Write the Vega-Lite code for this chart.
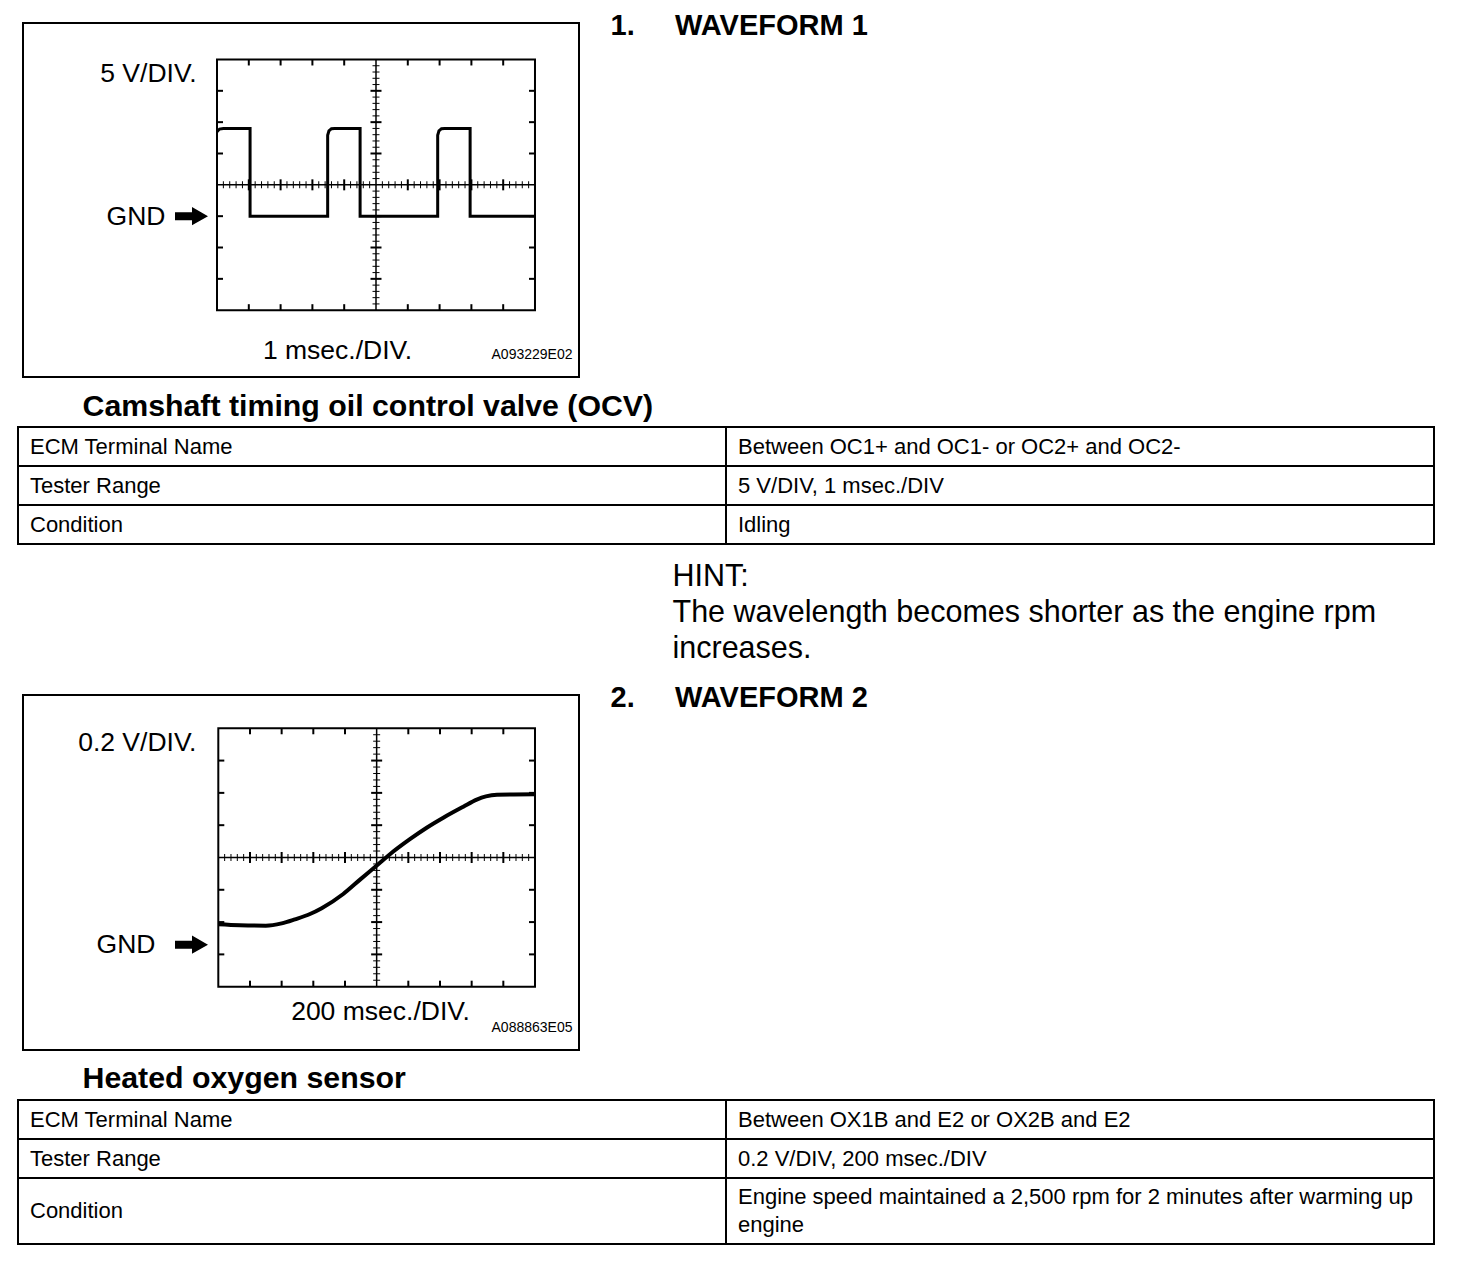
{
  "$schema": "https://vega.github.io/schema/vega-lite/v6.json",
  "padding": {"left": 17, "top": 10, "right": 0, "bottom": 0},
  "background": "white",
  "bounds": "flush",
  "spacing": 50,
  "datasets": {
    "s1screen": [{"t0": 0, "t1": 10, "tc": 5, "v0": -15, "v1": 25, "vc": 5}],
    "s1wave": [
      {"n": 1, "t": 0, "v": 13.5}, {"n": 2, "t": 0.08, "v": 13.9}, {"n": 3, "t": 0.2, "v": 14},
      {"n": 4, "t": 1.04, "v": 14}, {"n": 5, "t": 1.04, "v": 0}, {"n": 6, "t": 3.48, "v": 0},
      {"n": 7, "t": 3.48, "v": 12.9}, {"n": 8, "t": 3.52, "v": 13.6}, {"n": 9, "t": 3.6, "v": 13.95},
      {"n": 10, "t": 3.7, "v": 14}, {"n": 11, "t": 4.5, "v": 14}, {"n": 12, "t": 4.5, "v": 0},
      {"n": 13, "t": 6.94, "v": 0}, {"n": 14, "t": 6.94, "v": 12.9}, {"n": 15, "t": 6.98, "v": 13.6},
      {"n": 16, "t": 7.06, "v": 13.95}, {"n": 17, "t": 7.16, "v": 14}, {"n": 18, "t": 7.96, "v": 14},
      {"n": 19, "t": 7.96, "v": 0}, {"n": 20, "t": 10, "v": 0}
    ],
    "s1xmin": [
      {"p": 0.2}, {"p": 0.4}, {"p": 0.6}, {"p": 0.8}, {"p": 1.2}, {"p": 1.4}, {"p": 1.6}, {"p": 1.8},
      {"p": 2.2}, {"p": 2.4}, {"p": 2.6}, {"p": 2.8}, {"p": 3.2}, {"p": 3.4}, {"p": 3.6}, {"p": 3.8},
      {"p": 4.2}, {"p": 4.4}, {"p": 4.6}, {"p": 4.8}, {"p": 5.2}, {"p": 5.4}, {"p": 5.6}, {"p": 5.8},
      {"p": 6.2}, {"p": 6.4}, {"p": 6.6}, {"p": 6.8}, {"p": 7.2}, {"p": 7.4}, {"p": 7.6}, {"p": 7.8},
      {"p": 8.2}, {"p": 8.4}, {"p": 8.6}, {"p": 8.8}, {"p": 9.2}, {"p": 9.4}, {"p": 9.6}, {"p": 9.8}
    ],
    "s1xmaj": [{"p": 1}, {"p": 2}, {"p": 3}, {"p": 4}, {"p": 6}, {"p": 7}, {"p": 8}, {"p": 9}],
    "s1ymin": [
      {"p": -14}, {"p": -13}, {"p": -12}, {"p": -11}, {"p": -9}, {"p": -8}, {"p": -7}, {"p": -6},
      {"p": -4}, {"p": -3}, {"p": -2}, {"p": -1}, {"p": 1}, {"p": 2}, {"p": 3}, {"p": 4},
      {"p": 6}, {"p": 7}, {"p": 8}, {"p": 9}, {"p": 11}, {"p": 12}, {"p": 13}, {"p": 14},
      {"p": 16}, {"p": 17}, {"p": 18}, {"p": 19}, {"p": 21}, {"p": 22}, {"p": 23}, {"p": 24}
    ],
    "s1ymaj": [{"p": -10}, {"p": -5}, {"p": 0}, {"p": 10}, {"p": 15}, {"p": 20}],
    "s2screen": [{"t0": 0, "t1": 2000, "tc": 1000, "v0": -0.26, "v1": 1.34, "vc": 0.54}],
    "s2wave": [
      {"n": 1, "t": 0, "v": 0.126}, {"n": 2, "t": 137, "v": 0.12}, {"n": 3, "t": 300, "v": 0.118},
      {"n": 4, "t": 400, "v": 0.132}, {"n": 5, "t": 484, "v": 0.157}, {"n": 6, "t": 579, "v": 0.19},
      {"n": 7, "t": 653, "v": 0.226}, {"n": 8, "t": 789, "v": 0.314}, {"n": 9, "t": 895, "v": 0.403},
      {"n": 10, "t": 1010, "v": 0.498}, {"n": 11, "t": 1084, "v": 0.56}, {"n": 12, "t": 1210, "v": 0.653},
      {"n": 13, "t": 1316, "v": 0.724}, {"n": 14, "t": 1421, "v": 0.786}, {"n": 15, "t": 1547, "v": 0.854},
      {"n": 16, "t": 1632, "v": 0.898}, {"n": 17, "t": 1690, "v": 0.918}, {"n": 18, "t": 1760, "v": 0.928},
      {"n": 19, "t": 2000, "v": 0.931}
    ],
    "s2xmin": [
      {"p": 40}, {"p": 80}, {"p": 120}, {"p": 160}, {"p": 240}, {"p": 280}, {"p": 320}, {"p": 360},
      {"p": 440}, {"p": 480}, {"p": 520}, {"p": 560}, {"p": 640}, {"p": 680}, {"p": 720}, {"p": 760},
      {"p": 840}, {"p": 880}, {"p": 920}, {"p": 960}, {"p": 1040}, {"p": 1080}, {"p": 1120}, {"p": 1160},
      {"p": 1240}, {"p": 1280}, {"p": 1320}, {"p": 1360}, {"p": 1440}, {"p": 1480}, {"p": 1520}, {"p": 1560},
      {"p": 1640}, {"p": 1680}, {"p": 1720}, {"p": 1760}, {"p": 1840}, {"p": 1880}, {"p": 1920}, {"p": 1960}
    ],
    "s2xmaj": [{"p": 200}, {"p": 400}, {"p": 600}, {"p": 800}, {"p": 1200}, {"p": 1400}, {"p": 1600}, {"p": 1800}],
    "s2ymin": [
      {"p": -0.22}, {"p": -0.18}, {"p": -0.14}, {"p": -0.1}, {"p": -0.02}, {"p": 0.02}, {"p": 0.06}, {"p": 0.1},
      {"p": 0.18}, {"p": 0.22}, {"p": 0.26}, {"p": 0.3}, {"p": 0.38}, {"p": 0.42}, {"p": 0.46}, {"p": 0.5},
      {"p": 0.58}, {"p": 0.62}, {"p": 0.66}, {"p": 0.7}, {"p": 0.78}, {"p": 0.82}, {"p": 0.86}, {"p": 0.9},
      {"p": 0.98}, {"p": 1.02}, {"p": 1.06}, {"p": 1.1}, {"p": 1.18}, {"p": 1.22}, {"p": 1.26}, {"p": 1.3}
    ],
    "s2ymaj": [{"p": -0.06}, {"p": 0.14}, {"p": 0.34}, {"p": 0.74}, {"p": 0.94}, {"p": 1.14}],
    "t1": [
      {"r": 1, "c": "name", "text": "ECM Terminal Name"},
      {"r": 1, "c": "value", "text": "Between OC1+ and OC1- or OC2+ and OC2-"},
      {"r": 2, "c": "name", "text": "Tester Range"},
      {"r": 2, "c": "value", "text": "5 V/DIV, 1 msec./DIV"},
      {"r": 3, "c": "name", "text": "Condition"},
      {"r": 3, "c": "value", "text": "Idling"}
    ],
    "t2a": [
      {"r": 1, "c": "name", "text": "ECM Terminal Name"},
      {"r": 1, "c": "value", "text": "Between OX1B and E2 or OX2B and E2"},
      {"r": 2, "c": "name", "text": "Tester Range"},
      {"r": 2, "c": "value", "text": "0.2 V/DIV, 200 msec./DIV"}
    ],
    "t2b": [
      {"r": 3, "c": "name", "text": "Condition"},
      {"r": 3, "c": "value", "text": ["Engine speed maintained a 2,500 rpm for 2 minutes after warming up", "engine"]}
    ]
  },
  "vconcat": [
    {
      "width": 556, "height": 354,
      "view": {"stroke": "black", "strokeWidth": 2},
      "resolve": {"axis": {"x": "independent", "y": "independent"}},
      "layer": [
        {
          "data": {"name": "s1screen"},
          "mark": {"type": "rect", "fill": "transparent", "stroke": "black", "strokeWidth": 2},
          "encoding": {
            "x": {"field": "t0", "type": "quantitative", "scale": {"domain": [-6.101, 11.384], "nice": false, "zero": false},
              "axis": {"orient": "bottom", "title": "1 msec./DIV.", "titleX": 314, "titleY": -18.5, "titleAlign": "center", "titleBaseline": "alphabetic", "titleFontSize": 26.5}},
            "x2": {"field": "t1"},
            "y": {"field": "v0", "type": "quantitative", "scale": {"domain": [-25.66, 30.82], "nice": false, "zero": false},
              "axis": {"orient": "left", "values": [0], "labels": true, "labelExpr": "'GND'", "labelFontSize": 26.5, "labelPadding": 0, "labelAlign": "right", "labelBaseline": "middle", "offset": -142,
                "title": "5 V/DIV.", "titleAngle": 0, "titleX": 31, "titleY": 58, "titleAlign": "right", "titleBaseline": "alphabetic", "titleFontSize": 26.5}},
            "y2": {"field": "v1"}
          }
        },
        {
          "data": {"name": "s1screen"},
          "mark": {"type": "rule", "color": "black", "strokeWidth": 1.5},
          "encoding": {"x": {"field": "tc", "type": "quantitative", "axis": null}, "y": {"field": "v0", "type": "quantitative", "axis": null}, "y2": {"field": "v1"}}
        },
        {
          "data": {"name": "s1screen"},
          "mark": {"type": "rule", "color": "black", "strokeWidth": 1.5},
          "encoding": {"y": {"field": "vc", "type": "quantitative", "axis": null}, "x": {"field": "t0", "type": "quantitative", "axis": null}, "x2": {"field": "t1"}}
        },
        {
          "data": {"name": "s1xmin"},
          "mark": {"type": "tick", "orient": "vertical", "color": "black", "opacity": 1, "size": 7, "thickness": 1},
          "encoding": {"x": {"field": "p", "type": "quantitative", "axis": null}, "y": {"datum": 5, "type": "quantitative", "axis": null}}
        },
        {
          "data": {"name": "s1xmaj"},
          "mark": {"type": "tick", "orient": "vertical", "color": "black", "opacity": 1, "size": 11, "thickness": 2},
          "encoding": {"x": {"field": "p", "type": "quantitative", "axis": null}, "y": {"datum": 5, "type": "quantitative", "axis": null}}
        },
        {
          "data": {"name": "s1ymin"},
          "mark": {"type": "tick", "orient": "horizontal", "color": "black", "opacity": 1, "size": 7, "thickness": 1},
          "encoding": {"y": {"field": "p", "type": "quantitative", "axis": null}, "x": {"datum": 5, "type": "quantitative", "axis": null}}
        },
        {
          "data": {"name": "s1ymaj"},
          "mark": {"type": "tick", "orient": "horizontal", "color": "black", "opacity": 1, "size": 11, "thickness": 2},
          "encoding": {"y": {"field": "p", "type": "quantitative", "axis": null}, "x": {"datum": 5, "type": "quantitative", "axis": null}}
        },
        {
          "data": {"name": "s1xmaj"},
          "mark": {"type": "tick", "orient": "vertical", "color": "black", "opacity": 1, "size": 6, "thickness": 2, "yOffset": 3},
          "encoding": {"x": {"field": "p", "type": "quantitative", "axis": null}, "y": {"datum": 25, "type": "quantitative", "axis": null}}
        },
        {
          "data": {"name": "s1xmaj"},
          "mark": {"type": "tick", "orient": "vertical", "color": "black", "opacity": 1, "size": 6, "thickness": 2, "yOffset": -3},
          "encoding": {"x": {"field": "p", "type": "quantitative", "axis": null}, "y": {"datum": -15, "type": "quantitative", "axis": null}}
        },
        {
          "data": {"name": "s1ymaj"},
          "mark": {"type": "tick", "orient": "horizontal", "color": "black", "opacity": 1, "size": 6, "thickness": 2, "xOffset": 3},
          "encoding": {"y": {"field": "p", "type": "quantitative", "axis": null}, "x": {"datum": 0, "type": "quantitative", "axis": null}}
        },
        {
          "data": {"name": "s1ymaj"},
          "mark": {"type": "tick", "orient": "horizontal", "color": "black", "opacity": 1, "size": 6, "thickness": 2, "xOffset": -3},
          "encoding": {"y": {"field": "p", "type": "quantitative", "axis": null}, "x": {"datum": 10, "type": "quantitative", "axis": null}}
        },
        {
          "data": {"name": "s1screen"},
          "mark": {"type": "point", "shape": "M-1,-0.24L0.03,-0.24L0.03,-0.55L1,0L0.03,0.55L0.03,0.24L-1,0.24Z", "filled": true, "color": "black", "opacity": 1, "size": 1089, "xOffset": -25.5},
          "encoding": {"x": {"field": "t0", "type": "quantitative", "axis": null}, "y": {"datum": 0, "type": "quantitative", "axis": null}}
        },
        {
          "data": {"name": "s1wave"},
          "mark": {"type": "line", "color": "black", "strokeWidth": 3},
          "encoding": {
            "x": {"field": "t", "type": "quantitative",
              "axis": {"orient": "top", "title": "1.\u00a0\u00a0\u00a0\u00a0\u00a0WAVEFORM 1", "titleX": 587, "titleY": 11, "titleAlign": "left", "titleBaseline": "alphabetic", "titleFontSize": 29, "titleFontWeight": "bold"}},
            "y": {"field": "v", "type": "quantitative",
              "axis": {"orient": "right", "title": "A093229E02", "titleAngle": 0, "titleX": -7, "titleY": 335, "titleAlign": "right", "titleBaseline": "alphabetic", "titleFontSize": 14}},
            "order": {"field": "n", "type": "quantitative"}
          }
        }
      ]
    },
    {
      "width": 1411, "height": 218,
      "data": {"name": "t1"},
      "layer": [
        {
          "mark": {"type": "rect", "fill": "white", "stroke": "black", "strokeWidth": 2},
          "encoding": {
            "x": {"field": "c", "type": "nominal", "scale": {"domain": ["name", "value"], "range": [-5, 1411], "paddingInner": 0, "paddingOuter": 0},
              "axis": {"orient": "bottom", "title": ["HINT:", "The wavelength becomes shorter as the engine rpm", "increases."], "titleX": 649, "titleY": -60, "titleAlign": "left", "titleBaseline": "alphabetic", "titleFontSize": 30.5, "titleLineHeight": 36}},
            "y": {"field": "r", "type": "ordinal", "scale": {"range": [0, 117], "paddingInner": 0, "paddingOuter": 0},
              "axis": {"orient": "left", "title": "Camshaft timing oil control valve (OCV)", "titleAngle": 0, "titleX": 59, "titleY": -12, "titleAlign": "left", "titleBaseline": "alphabetic", "titleFontSize": 30.3, "titleFontWeight": "bold"}}
          }
        },
        {
          "mark": {"type": "text", "align": "left", "baseline": "middle", "dx": 12, "fontSize": 22, "color": "black"},
          "encoding": {
            "x": {"field": "c", "type": "nominal", "bandPosition": 0},
            "y": {"field": "r", "type": "ordinal"},
            "text": {"field": "text"}
          }
        }
      ]
    },
    {
      "width": 556, "height": 355,
      "view": {"stroke": "black", "strokeWidth": 2},
      "resolve": {"axis": {"x": "independent", "y": "independent"}},
      "layer": [
        {
          "data": {"name": "s2screen"},
          "mark": {"type": "rect", "fill": "transparent", "stroke": "black", "strokeWidth": 2},
          "encoding": {
            "x": {"field": "t0", "type": "quantitative", "scale": {"domain": [-1233.4, 2277.9], "nice": false, "zero": false},
              "axis": {"orient": "bottom", "title": "200 msec./DIV.", "titleX": 357, "titleY": -30.5, "titleAlign": "center", "titleBaseline": "alphabetic", "titleFontSize": 26.5}},
            "x2": {"field": "t1"},
            "y": {"field": "v0", "type": "quantitative", "scale": {"domain": [-0.652, 1.546], "nice": false, "zero": false},
              "axis": {"orient": "left", "values": [0], "labels": true, "labelExpr": "'GND'", "labelFontSize": 26.5, "labelPadding": 0, "labelAlign": "right", "labelBaseline": "middle", "offset": -132,
                "title": "0.2 V/DIV.", "titleAngle": 0, "titleX": 41, "titleY": 55.5, "titleAlign": "right", "titleBaseline": "alphabetic", "titleFontSize": 26.5}},
            "y2": {"field": "v1"}
          }
        },
        {
          "data": {"name": "s2screen"},
          "mark": {"type": "rule", "color": "black", "strokeWidth": 1.5},
          "encoding": {"x": {"field": "tc", "type": "quantitative", "axis": null}, "y": {"field": "v0", "type": "quantitative", "axis": null}, "y2": {"field": "v1"}}
        },
        {
          "data": {"name": "s2screen"},
          "mark": {"type": "rule", "color": "black", "strokeWidth": 1.5},
          "encoding": {"y": {"field": "vc", "type": "quantitative", "axis": null}, "x": {"field": "t0", "type": "quantitative", "axis": null}, "x2": {"field": "t1"}}
        },
        {
          "data": {"name": "s2xmin"},
          "mark": {"type": "tick", "orient": "vertical", "color": "black", "opacity": 1, "size": 7, "thickness": 1},
          "encoding": {"x": {"field": "p", "type": "quantitative", "axis": null}, "y": {"datum": 0.54, "type": "quantitative", "axis": null}}
        },
        {
          "data": {"name": "s2xmaj"},
          "mark": {"type": "tick", "orient": "vertical", "color": "black", "opacity": 1, "size": 11, "thickness": 2},
          "encoding": {"x": {"field": "p", "type": "quantitative", "axis": null}, "y": {"datum": 0.54, "type": "quantitative", "axis": null}}
        },
        {
          "data": {"name": "s2ymin"},
          "mark": {"type": "tick", "orient": "horizontal", "color": "black", "opacity": 1, "size": 7, "thickness": 1},
          "encoding": {"y": {"field": "p", "type": "quantitative", "axis": null}, "x": {"datum": 1000, "type": "quantitative", "axis": null}}
        },
        {
          "data": {"name": "s2ymaj"},
          "mark": {"type": "tick", "orient": "horizontal", "color": "black", "opacity": 1, "size": 11, "thickness": 2},
          "encoding": {"y": {"field": "p", "type": "quantitative", "axis": null}, "x": {"datum": 1000, "type": "quantitative", "axis": null}}
        },
        {
          "data": {"name": "s2xmaj"},
          "mark": {"type": "tick", "orient": "vertical", "color": "black", "opacity": 1, "size": 6, "thickness": 2, "yOffset": 3},
          "encoding": {"x": {"field": "p", "type": "quantitative", "axis": null}, "y": {"datum": 1.34, "type": "quantitative", "axis": null}}
        },
        {
          "data": {"name": "s2xmaj"},
          "mark": {"type": "tick", "orient": "vertical", "color": "black", "opacity": 1, "size": 6, "thickness": 2, "yOffset": -3},
          "encoding": {"x": {"field": "p", "type": "quantitative", "axis": null}, "y": {"datum": -0.26, "type": "quantitative", "axis": null}}
        },
        {
          "data": {"name": "s2ymaj"},
          "mark": {"type": "tick", "orient": "horizontal", "color": "black", "opacity": 1, "size": 6, "thickness": 2, "xOffset": 3},
          "encoding": {"y": {"field": "p", "type": "quantitative", "axis": null}, "x": {"datum": 0, "type": "quantitative", "axis": null}}
        },
        {
          "data": {"name": "s2ymaj"},
          "mark": {"type": "tick", "orient": "horizontal", "color": "black", "opacity": 1, "size": 6, "thickness": 2, "xOffset": -3},
          "encoding": {"y": {"field": "p", "type": "quantitative", "axis": null}, "x": {"datum": 2000, "type": "quantitative", "axis": null}}
        },
        {
          "data": {"name": "s2screen"},
          "mark": {"type": "point", "shape": "M-1,-0.24L0.03,-0.24L0.03,-0.55L1,0L0.03,0.55L0.03,0.24L-1,0.24Z", "filled": true, "color": "black", "opacity": 1, "size": 1089, "xOffset": -26.8},
          "encoding": {"x": {"field": "t0", "type": "quantitative", "axis": null}, "y": {"datum": 0, "type": "quantitative", "axis": null}}
        },
        {
          "data": {"name": "s2wave"},
          "mark": {"type": "line", "color": "black", "strokeWidth": 4, "interpolate": "monotone"},
          "encoding": {
            "x": {"field": "t", "type": "quantitative",
              "axis": {"orient": "top", "title": "2.\u00a0\u00a0\u00a0\u00a0\u00a0WAVEFORM 2", "titleX": 587, "titleY": 11, "titleAlign": "left", "titleBaseline": "alphabetic", "titleFontSize": 29, "titleFontWeight": "bold"}},
            "y": {"field": "v", "type": "quantitative",
              "axis": {"orient": "right", "title": "A088863E05", "titleAngle": 0, "titleX": -7, "titleY": 336, "titleAlign": "right", "titleBaseline": "alphabetic", "titleFontSize": 14}},
            "order": {"field": "n", "type": "quantitative"}
          }
        }
      ]
    },
    {
      "width": 1411, "height": 144,
      "resolve": {"scale": {"y": "independent"}},
      "layer": [
        {
          "data": {"name": "t2a"},
          "layer": [
            {
              "mark": {"type": "rect", "fill": "white", "stroke": "black", "strokeWidth": 2},
              "encoding": {
                "x": {"field": "c", "type": "nominal", "scale": {"domain": ["name", "value"], "range": [-5, 1411], "paddingInner": 0, "paddingOuter": 0}, "axis": null},
                "y": {"field": "r", "type": "ordinal", "scale": {"range": [0, 78], "paddingInner": 0, "paddingOuter": 0},
                  "axis": {"orient": "left", "title": "Heated oxygen sensor", "titleAngle": 0, "titleX": 59, "titleY": -13, "titleAlign": "left", "titleBaseline": "alphabetic", "titleFontSize": 30.3, "titleFontWeight": "bold"}}
              }
            },
            {
              "mark": {"type": "text", "align": "left", "baseline": "middle", "dx": 12, "fontSize": 22, "color": "black"},
              "encoding": {
                "x": {"field": "c", "type": "nominal", "bandPosition": 0, "axis": null},
                "y": {"field": "r", "type": "ordinal"},
                "text": {"field": "text"}
              }
            }
          ]
        },
        {
          "data": {"name": "t2b"},
          "layer": [
            {
              "mark": {"type": "rect", "fill": "white", "stroke": "black", "strokeWidth": 2},
              "encoding": {
                "x": {"field": "c", "type": "nominal", "axis": null},
                "y": {"field": "r", "type": "ordinal", "scale": {"range": [78, 144], "paddingInner": 0, "paddingOuter": 0}, "axis": null}
              }
            },
            {
              "transform": [{"filter": "datum.c == 'name'"}],
              "mark": {"type": "text", "align": "left", "baseline": "middle", "dx": 12, "fontSize": 22, "color": "black"},
              "encoding": {
                "x": {"field": "c", "type": "nominal", "bandPosition": 0, "axis": null},
                "y": {"field": "r", "type": "ordinal", "axis": null},
                "text": {"field": "text"}
              }
            },
            {
              "transform": [{"filter": "datum.c == 'value'"}],
              "mark": {"type": "text", "align": "left", "baseline": "middle", "dx": 12, "dy": -14, "fontSize": 22, "lineHeight": 28, "color": "black"},
              "encoding": {
                "x": {"field": "c", "type": "nominal", "bandPosition": 0, "axis": null},
                "y": {"field": "r", "type": "ordinal", "axis": null},
                "text": {"field": "text"}
              }
            }
          ]
        }
      ]
    }
  ],
  "config": {
    "view": {"stroke": null},
    "font": "Liberation Sans",
    "axis": {"domain": false, "ticks": false, "labels": false, "grid": false, "minExtent": 0, "titleColor": "black", "labelColor": "black", "titleFont": "Liberation Sans", "labelFont": "Liberation Sans", "titleFontWeight": "normal", "titlePadding": 0},
    "text": {"font": "Liberation Sans", "color": "black"}
  }
}
